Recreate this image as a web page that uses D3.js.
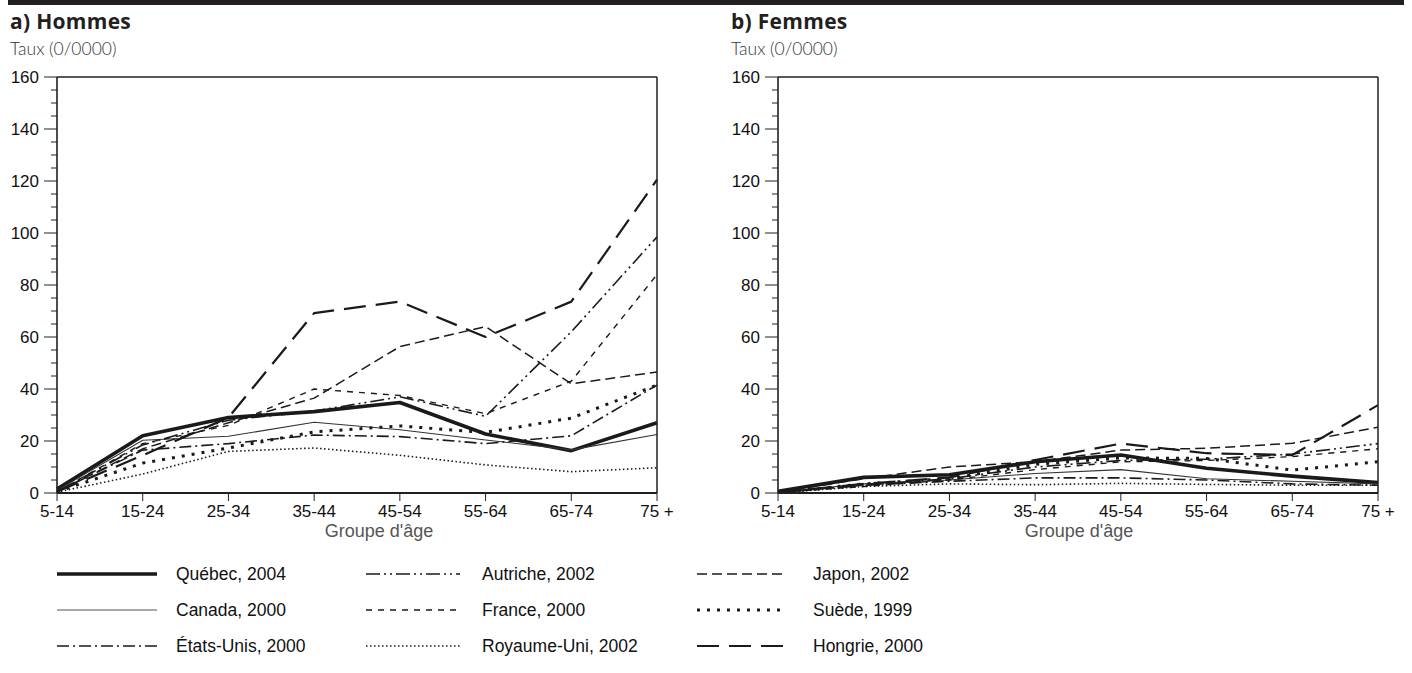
<!DOCTYPE html>
<html><head><meta charset="utf-8">
<script src="https://cdn.jsdelivr.net/npm/d3@7"></script>
<style>
html,body{margin:0;padding:0;background:#fff;}
svg{display:block;}
</style></head>
<body>
<svg id="c" width="1412" height="673"></svg>
<script>
const ages = ["5-14","15-24","25-34","35-44","45-54","55-64","65-74","75 +"];
const yTicks = [0,20,40,60,80,100,120,140,160];

const seriesNames = ["Québec, 2004","Canada, 2000","États-Unis, 2000","Autriche, 2002","France, 2000","Royaume-Uni, 2002","Japon, 2002","Suède, 1999","Hongrie, 2000"];

// Hommes
const hQuebec    = [1.5, 22, 29, 31.3, 34.8, 22.7, 16.3, 27];
const hCanada    = [1, 20.3, 21.8, 27.2, 24.3, 20.4, 16.6, 22.5];
const hEtatsUnis = [0.5, 16.5, 19, 22.3, 21.7, 19, 22, 41.5];
const hAutriche  = [0.5, 18.5, 28, 31.5, 37, 29.5, 62, 98.5];
const hFrance    = [0.5, 19, 26, 40, 37.5, 30.5, 43, 84];
const hRoyaumeUni= [0.3, 7.3, 16, 17.3, 14.5, 10.8, 8.2, 9.7];
const hJapon     = [0.5, 17, 27, 36.5, 56.3, 64, 42, 46.5];
const hSuede     = [0.5, 11.5, 17.3, 23.5, 25.8, 23.3, 28.8, 41.5];
const hHongrie   = [0.5, 14.5, 29, 69.2, 73.6, 60, 73.6, 120.5];

// Femmes
const fQuebec    = [0.7, 6, 7, 12, 14.6, 9.5, 6.5, 4];
const fCanada    = [0.3, 3.5, 5, 7.5, 9, 5.5, 4.5, 3.5];
const fEtatsUnis = [0.2, 3, 4.5, 5.8, 5.8, 5, 3.5, 3];
const fAutriche  = [0.2, 3, 5.5, 10, 12.5, 13, 15, 19];
const fFrance    = [0.2, 2.5, 5, 9, 12, 12.5, 14, 17];
const fRoyaumeUni= [0.1, 2.5, 3.5, 3.2, 3.7, 3.3, 3, 3];
const fJapon     = [0.3, 5.5, 10, 12, 16.5, 17.2, 19.1, 25.3];
const fSuede     = [0.2, 3.5, 5.5, 11, 13.5, 13.3, 8.8, 12];
const fHongrie   = [0.3, 3.5, 6, 12.7, 19, 15.3, 14.6, 33.8];

const hommes = [hQuebec,hCanada,hEtatsUnis,hAutriche,hFrance,hRoyaumeUni,hJapon,hSuede,hHongrie];
const femmes = [fQuebec,fCanada,fEtatsUnis,fAutriche,fFrance,fRoyaumeUni,fJapon,fSuede,fHongrie];

const styles = [
  {w:3.6, dash:null, color:"#1a1a1a"},
  {w:1.1, dash:null, color:"#333"},
  {w:1.6, dash:"12,4,2,4", color:"#1a1a1a"},
  {w:1.6, dash:"14,4,2,4,2,4", color:"#1a1a1a"},
  {w:1.4, dash:"6,6", color:"#1a1a1a"},
  {w:1.6, dash:"1.5,2.5", color:"#1a1a1a"},
  {w:1.5, dash:"10,5", color:"#1a1a1a"},
  {w:3, dash:"3,7", color:"#1a1a1a"},
  {w:2.2, dash:"22,10", color:"#1a1a1a"}
];

const svg = d3.select("#c");
const fontTick = "'Liberation Sans', Arial, sans-serif";
const fontTitle = "'Open Sans', Lato, sans-serif";
const fontSub = "Lato, 'Open Sans', sans-serif";

svg.append("rect").attr("x",8).attr("y",0).attr("width",1396).attr("height",5).attr("fill","#231f20");

const yTop = 77, yBottom = 493, W = 600;
const y = d3.scaleLinear().domain([0,160]).range([yBottom, yTop]);

function panel(x0, title, data, labelX) {
  const x = d3.scalePoint().domain(ages).range([x0, x0 + W]);
  const g = svg.append("g");
  g.append("text").attr("x", x0 - 47).attr("y", 29).attr("font-family", fontTitle)
    .attr("font-weight", "bold").attr("font-size", 21).attr("letter-spacing", 0.3)
    .attr("fill", "#231f20").text(title);
  g.append("text").attr("x", x0 - 47).attr("y", 55).attr("font-family", fontSub)
    .attr("font-weight", 300).attr("font-size", 17.5).attr("fill", "#333").text("Taux (0/0000)");

  const line = d3.line().x((d,i)=>x(ages[i])).y(d=>y(d));
  data.forEach((s,i)=>{
    const st = styles[i];
    g.append("path").attr("d", line(s)).attr("fill","none").attr("stroke", st.color)
      .attr("stroke-width", st.w).attr("stroke-dasharray", st.dash).attr("stroke-linejoin","round");
  });

  const minor = d3.range(0, 161, 5);
  g.selectAll(".mn").data(minor).enter().append("line")
    .attr("x1", d => yTicks.includes(d) ? x0 - 13 : x0 - 6).attr("x2", x0)
    .attr("y1", d=>y(d)).attr("y2", d=>y(d)).attr("stroke","#231f20").attr("stroke-width",1);
  g.selectAll(".yl").data(yTicks).enter().append("text")
    .attr("x", x0 - 18).attr("y", d=>y(d)+6).attr("text-anchor","end")
    .attr("font-family", fontTick).attr("font-size", 17).attr("fill","#111").text(d=>d);

  g.append("line").attr("x1",x0).attr("x2",x0+W).attr("y1",yTop).attr("y2",yTop).attr("stroke","#231f20").attr("stroke-width",1.5);
  g.append("line").attr("x1",x0+W).attr("x2",x0+W).attr("y1",yTop).attr("y2",yBottom).attr("stroke","#231f20").attr("stroke-width",1.5);
  g.append("line").attr("x1",x0).attr("x2",x0).attr("y1",yTop).attr("y2",yBottom).attr("stroke","#231f20").attr("stroke-width",1.6);
  g.append("line").attr("x1",x0).attr("x2",x0+W).attr("y1",yBottom).attr("y2",yBottom).attr("stroke","#231f20").attr("stroke-width",2);

  g.selectAll(".xt").data(ages).enter().append("line")
    .attr("x1", d=>x(d)).attr("x2", d=>x(d)).attr("y1", yBottom).attr("y2", yBottom+8)
    .attr("stroke","#231f20").attr("stroke-width",1);
  g.selectAll(".xl").data(ages).enter().append("text")
    .attr("x", d=>x(d)).attr("y", yBottom+24).attr("text-anchor","middle")
    .attr("font-family", fontTick).attr("font-size", 17).attr("fill","#111").text(d=>d);
  g.append("text").attr("x", labelX).attr("y", yBottom+44).attr("text-anchor","middle")
    .attr("font-family", fontTick).attr("font-size", 18).attr("fill","#555").text("Groupe d'âge");
}

panel(57, "a) Hommes", hommes, 379);
panel(778, "b) Femmes", femmes, 1079);

const legCols = [{lx:57, lw:100, tx:176},{lx:366, lw:94, tx:482},{lx:697, lw:90, tx:813}];
const legRows = [574, 610, 646];
const order = [[0,1,2],[3,4,5],[6,7,8]];
order.forEach((col,ci)=>{
  col.forEach((si,ri)=>{
    const st = styles[si];
    const c = legCols[ci], yy = legRows[ri];
    svg.append("line").attr("x1",c.lx).attr("x2",c.lx+c.lw).attr("y1",yy).attr("y2",yy)
      .attr("stroke", si===1 ? "#555" : st.color).attr("stroke-width",st.w).attr("stroke-dasharray",st.dash);
    svg.append("text").attr("x",c.tx).attr("y",yy+6).attr("font-family",fontTick)
      .attr("font-size",17.5).attr("fill","#111").text(seriesNames[si]);
  });
});
</script>
</body></html>
